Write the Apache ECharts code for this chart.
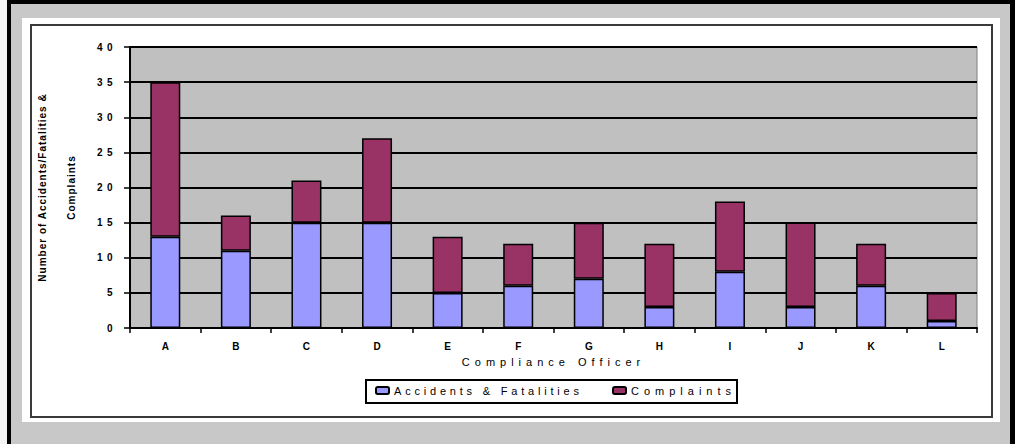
<!DOCTYPE html>
<html>
<head>
<meta charset="utf-8">
<style>
  html, body { margin: 0; padding: 0; background: #c8c8c8; }
  #chart { width: 1015px; height: 444px; }
</style>
<script src="https://cdn.jsdelivr.net/npm/echarts@6/dist/echarts.min.js"></script>
</head>
<body>
<div id="chart"></div>
<script>
// Officers and their yearly counts
const categories = ['A', 'B', 'C', 'D', 'E', 'F', 'G', 'H', 'I', 'J', 'K', 'L'];
const accidents = [13, 11, 15, 15, 5, 6, 7, 3, 8, 3, 6, 1];
const complaints = [22, 5, 6, 12, 8, 6, 8, 9, 10, 12, 6, 4];
const seriesNames = ['Accidents & Fatalities', 'Complaints'];

const FONT = '"Liberation Sans", Arial, sans-serif';

const chart = echarts.init(document.getElementById('chart'), null, { renderer: 'svg' });

// Spread the characters of the chart's texts a little, the way the old
// office chart engine drew them.
chart.on('finished', function () {
  document.querySelectorAll('#chart svg text').forEach(function (t) {
    const s = t.textContent.trim();
    const tr = t.getAttribute('transform') || '';
    const m = tr.match(/matrix\(([^)]*)\)/);
    const rotated = m && Math.abs(parseFloat(m[1].split(/[ ,]+/)[1])) > 0.5;
    let ls = 0;
    if (rotated) ls = 1;
    else if (/^\d+$/.test(s)) ls = 4.5;
    else if (s === 'Compliance Officer') ls = 5;
    else if (s === seriesNames[0]) ls = 3.8;
    else if (s === seriesNames[1]) ls = 5;
    t.style.letterSpacing = ls + 'px';
  });
});

// One legend entry per box slot, both framed by a single outline.
function legendEntry(name, left) {
  return {
    left: left, top: 385,
    padding: 0,
    itemWidth: 13, itemHeight: 7,
    data: [name],
    selectedMode: false,
    textStyle: { fontFamily: FONT, fontSize: 11, color: '#000' }
  };
}

const option = {
  animation: false,
  backgroundColor: '#c8c8c8',
  graphic: [
    { type: 'rect', z: -20, shape: { x: 0, y: 0, width: 1015, height: 4 }, style: { fill: '#000' } },
    { type: 'rect', z: -20, shape: { x: 0, y: 0, width: 7, height: 444 }, style: { fill: '#f4f4f4' } },
    { type: 'rect', z: -20, shape: { x: 7, y: 0, width: 4, height: 444 }, style: { fill: '#000' } },
    { type: 'rect', z: -20, shape: { x: 1010, y: 0, width: 5, height: 444 }, style: { fill: '#000' } },
    { type: 'rect', z: -20, shape: { x: 22, y: 18, width: 978, height: 404 }, style: { fill: '#fff' } },
    { type: 'rect', z: -19, shape: { x: 31, y: 25, width: 961, height: 392 },
      style: { fill: 'none', stroke: '#3a3a3a', lineWidth: 2 } },
    { type: 'rect', z: -18, shape: { x: 366, y: 380, width: 371, height: 23 },
      style: { fill: 'none', stroke: '#000', lineWidth: 2 } }
  ],
  grid: {
    left: 130, top: 47, right: 38, bottom: 116,
    show: true, backgroundColor: '#c0c0c0', borderColor: '#808080', borderWidth: 1
  },
  legend: [legendEntry(seriesNames[0], 375), legendEntry(seriesNames[1], 612)],
  xAxis: {
    type: 'category',
    data: categories,
    name: 'Compliance Officer',
    nameLocation: 'middle',
    nameGap: 28,
    nameTextStyle: { fontFamily: FONT, fontSize: 11, color: '#000' },
    axisLine: { lineStyle: { color: '#000', width: 2 } },
    axisTick: { show: true, length: 5, lineStyle: { color: '#000', width: 1.5 } },
    axisLabel: { fontFamily: FONT, fontSize: 10, fontWeight: 'bold', color: '#000', margin: 13 }
  },
  yAxis: {
    type: 'value',
    min: 0, max: 40, interval: 5,
    name: 'Number of Accidents/Fatalities &\nComplaints',
    nameLocation: 'middle',
    nameRotate: 90,
    nameGap: 44,
    nameTextStyle: { fontFamily: FONT, fontSize: 10, fontWeight: 'bold', color: '#000', lineHeight: 29 },
    axisLine: { show: true, lineStyle: { color: '#000', width: 2 } },
    axisTick: { show: true, length: 6, lineStyle: { color: '#000', width: 1.5 } },
    axisLabel: { fontFamily: FONT, fontSize: 10, fontWeight: 'bold', color: '#000', margin: 13 },
    splitLine: { show: true, lineStyle: { color: '#000', width: 2 } }
  },
  series: [
    {
      name: seriesNames[0], type: 'bar', stack: 'total', barWidth: 30,
      data: accidents,
      itemStyle: { color: '#9999ff', borderColor: '#000', borderWidth: 1.5 }
    },
    {
      name: seriesNames[1], type: 'bar', stack: 'total', barWidth: 30,
      data: complaints,
      itemStyle: { color: '#993366', borderColor: '#000', borderWidth: 1.5 }
    }
  ]
};

chart.setOption(option);
</script>
</body>
</html>
